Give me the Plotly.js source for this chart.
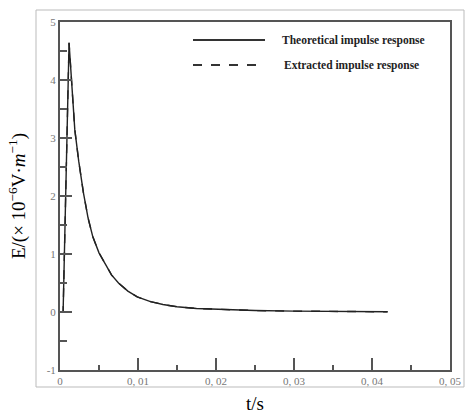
<!DOCTYPE html>
<html>
<head>
<meta charset="utf-8">
<script src="https://cdn.plot.ly/plotly-3.0.1.min.js"></script>
<style>html,body{margin:0;padding:0;background:#fff;}#chart{width:473px;height:416px;}</style>
</head>
<body>
<div id="chart"></div>
<script>
// Time (s)
const timeS = [0, 0.0004, 0.00116, 0.0015, 0.0019, 0.0024, 0.003, 0.0036, 0.0042, 0.005, 0.0058, 0.0066, 0.0075, 0.0087, 0.0099, 0.0116, 0.0132, 0.015, 0.0175, 0.02, 0.025, 0.03, 0.035, 0.042];
// Theoretical impulse response (×10^-6 V/m)
const theoretical = [0, 0, 4.64, 3.9, 3.14, 2.6, 2.06, 1.62, 1.3, 1.02, 0.82, 0.64, 0.5, 0.36, 0.26, 0.18, 0.13, 0.09, 0.06, 0.045, 0.025, 0.015, 0.008, 0.004];
// Extracted impulse response (overlaps the theoretical curve)
const extracted = [0, 0, 4.64, 3.9, 3.14, 2.6, 2.06, 1.62, 1.3, 1.02, 0.82, 0.64, 0.5, 0.36, 0.26, 0.18, 0.13, 0.09, 0.06, 0.045, 0.025, 0.015, 0.008, 0.004];
const seriesNames = ["Theoretical impulse response", "Extracted impulse response"];
const xTickVals = [0, 0.01, 0.02, 0.03, 0.04, 0.05];
const xTickText = ["0", "0, 01", "0, 02", "0, 03", "0, 04", "0, 05"];
const yTickVals = [-1, 0, 1, 2, 3, 4, 5];
const yTickText = ["-1", "0", "1", "2", "3", "4", "5"];

const axisColor = "#555";
const tickFont = {family: "Liberation Serif, DejaVu Serif, serif", size: 11, color: "#777"};

const traces = [
  {x: timeS, y: extracted, name: seriesNames[1], mode: "lines", line: {color: "#222", width: 1.4, dash: "dash"}},
  {x: timeS, y: theoretical, name: seriesNames[0], mode: "lines", line: {color: "#222", width: 1.4}}
];

const legendFont = {family: "Liberation Serif, serif", size: 11.5, color: "#222"};
const layout = {
  width: 473, height: 416,
  margin: {l: 60, r: 23, t: 22, b: 46},
  paper_bgcolor: "#fff", plot_bgcolor: "#fff",
  showlegend: false,
  xaxis: {
    range: [0, 0.05], tickvals: xTickVals, ticktext: xTickText,
    ticks: "inside", ticklen: 12, tickwidth: 1.5, tickcolor: axisColor,
    minor: {dtick: 0.005, ticks: "inside", ticklen: 5, tickwidth: 1.5, tickcolor: axisColor},
    showgrid: false, zeroline: false, showline: true, linecolor: axisColor, linewidth: 2, mirror: true,
    tickfont: tickFont,
    title: {text: "t/s", font: {family: "Liberation Serif, serif", size: 19, color: "#000"}, standoff: 10}
  },
  yaxis: {
    range: [-1, 5], tickvals: yTickVals, ticktext: yTickText,
    ticks: "inside", ticklen: 12, tickwidth: 1.5, tickcolor: axisColor,
    minor: {dtick: 0.5, ticks: "inside", ticklen: 7, tickwidth: 1.5, tickcolor: axisColor},
    showgrid: false, zeroline: false, showline: true, linecolor: axisColor, linewidth: 2, mirror: true,
    tickfont: tickFont,
    title: {text: "E/(× 10<sup>−6</sup>V·<i>m</i><sup>−1</sup>)", font: {family: "Liberation Serif, serif", size: 19, color: "#000"}, standoff: 16}
  },
  shapes: [
    {type: "rect", xref: "paper", yref: "paper", x0: -24/390, x1: 1 + 14/390, y0: -17/348, y1: 1 + 12/348, line: {color: "#bbb", width: 1}},
    {type: "line", xref: "paper", yref: "paper", x0: 133/390, x1: 205/390, y0: 1 - 18/348, y1: 1 - 18/348, line: {color: "#333", width: 1.8}},
    {type: "line", xref: "paper", yref: "paper", x0: 133/390, x1: 205/390, y0: 1 - 43/348, y1: 1 - 43/348, line: {color: "#333", width: 1.8, dash: "dash"}}
  ],
  annotations: [
    {xref: "paper", yref: "paper", x: 220/390, y: 1 - 18/348, xanchor: "left", yanchor: "middle", showarrow: false, text: "<b>" + seriesNames[0] + "</b>", font: legendFont},
    {xref: "paper", yref: "paper", x: 222/390, y: 1 - 43/348, xanchor: "left", yanchor: "middle", showarrow: false, text: "<b>" + seriesNames[1] + "</b>", font: legendFont}
  ]
};
Plotly.newPlot("chart", traces, layout, {displayModeBar: false, staticPlot: true});
</script>
</body>
</html>
